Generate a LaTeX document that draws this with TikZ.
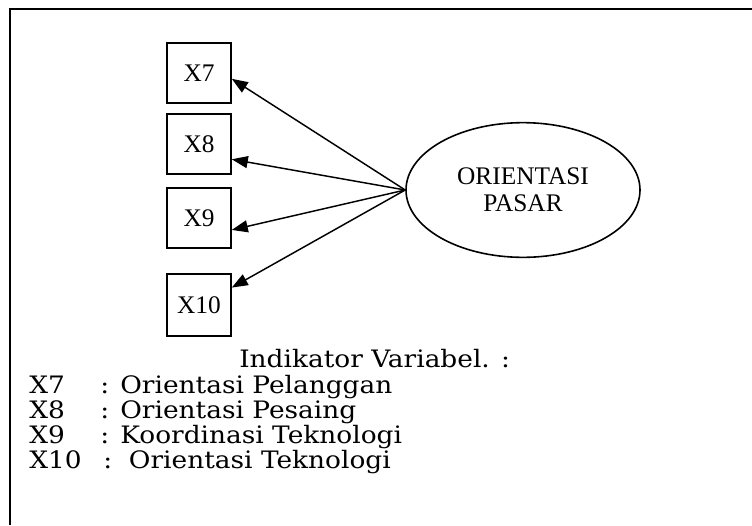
\documentclass[tikz,border=0pt]{standalone}
\usepackage{fontspec}
\usepackage{tikz}
\usetikzlibrary{arrows.meta,shapes.geometric}
\setmainfont{Liberation Serif}
\newfontfamily\legendfont[FakeStretch=1.1]{DejaVu Serif}

\tikzset{
  indikator/.style={draw, line width=1.2pt, minimum width=48pt, minimum height=45pt, inner sep=0pt, font=\fontsize{19}{20}\selectfont},
  panah/.style={line width=1.1pt, -{Triangle[length=12pt,width=9pt]}},
  keterangan/.style={anchor=base west, inner sep=0pt, font=\legendfont\fontsize{18}{20}\selectfont}
}

\begin{document}
\begin{tikzpicture}[x=0.75pt, y=-0.75pt]
     \useasboundingbox (0,0) rectangle (752,525);
     \draw[line width=1.5pt] (10,525) -- (10,9) -- (752,9);

     \node[indikator, name=x7] at (199,73) {X7};
     \node[indikator, name=x8] at (199,144) {X8};
     \node[indikator, name=x9] at (199,218) {X9};
     \node[indikator, name=x10, minimum height=46.5pt] at (199,305) {X10};

     \node[name=ps, ellipse, draw, line width=1.2pt, minimum width=175.5pt, minimum height=101pt, inner sep=0pt,
           align=center, font=\fontsize{19}{20.5}\selectfont] at (523,190) {ORIENTASI\\PASAR};

     \draw[panah] (ps.west) -- (x7.-10);
     \draw[panah] (ps.west) -- (x8.-25);
     \draw[panah] (ps.west) -- (x9.-20);
     \draw[panah] (ps.west) -- (x10.28);

     \node[keterangan, name=judul] at (239,367) {Indikator Variabel. :};
     \foreach \kode/\ttk/\isi/\y/\nama in {X7/100/: Orientasi Pelanggan/393/k7, X8/100/: Orientasi Pesaing/418/k8,
                                   X9/100/: Koordinasi Teknologi/443/k9, X10/103/:\ \ Orientasi Teknologi/468/k10}{
       \node[keterangan, name=\nama] at (29,\y) {\kode};
       \node[keterangan, name=\nama-isi] at (\ttk,\y) {\isi};
     }
\end{tikzpicture}
\end{document}
